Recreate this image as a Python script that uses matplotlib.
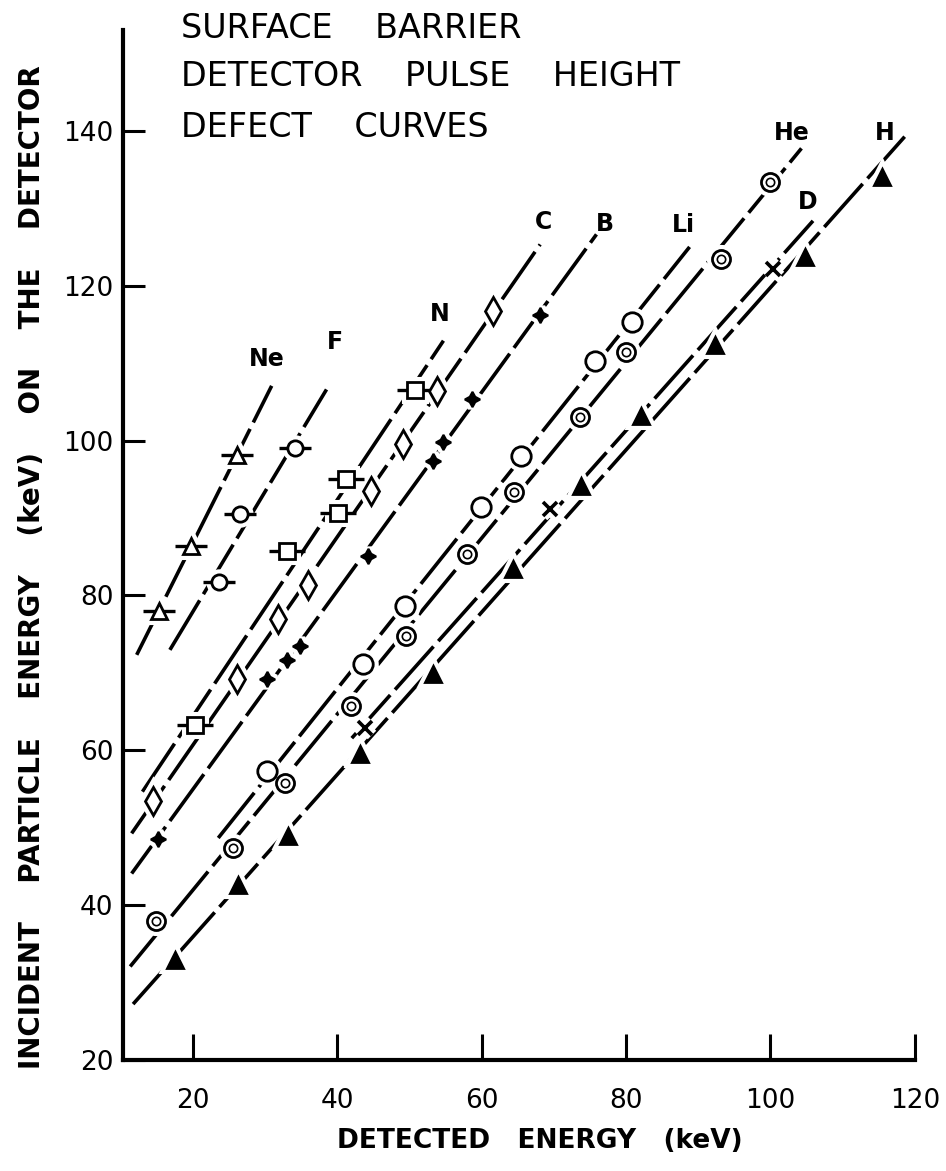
import numpy as np
import matplotlib.pyplot as plt

# points: detected energy (keV) vs incident energy (keV)
ne_x = [15.3, 19.7, 26.1]
ne_y = [78.0, 86.4, 98.1]
f_x = [23.6, 26.5, 34.1]
f_y = [81.7, 90.5, 99.1]
n_x = [20.3, 33.0, 40.1, 41.2, 50.7]
n_y = [63.3, 85.8, 90.7, 95.0, 106.5]
c_x = [14.5, 26.1, 31.8, 36.0, 44.7, 49.1, 53.8, 61.5]
c_y = [53.4, 69.2, 76.9, 81.4, 93.5, 99.6, 106.4, 116.8]
b_x = [15.2, 30.2, 33.0, 34.8, 44.3, 53.3, 54.7, 58.6, 68.1]
b_y = [48.5, 69.2, 71.7, 73.5, 85.1, 97.4, 99.8, 105.4, 116.2]
li_x = [30.2, 43.6, 49.4, 59.9, 65.5, 75.7, 80.8]
li_y = [57.3, 71.1, 78.6, 91.4, 98.0, 110.3, 115.3]
he_x = [14.9, 25.6, 32.7, 41.9, 49.5, 57.9, 64.5, 73.6, 80.0, 93.1, 99.9]
he_y = [37.9, 47.4, 55.8, 65.7, 74.8, 85.3, 93.3, 103.0, 111.4, 123.5, 133.4]
d_x = [43.8, 69.4, 100.4]
d_y = [62.9, 91.2, 122.2]
h_x = [17.5, 26.3, 33.2, 43.1, 53.3, 64.4, 73.8, 82.1, 92.3, 104.8, 115.4]
h_y = [32.9, 42.6, 48.9, 59.5, 69.8, 83.4, 94.2, 103.2, 112.3, 123.7, 134.1]

# extent of each hand drawn line (keV on the x axis)
ne_span = [12.2, 30.9]
f_span = [16.8, 38.5]
n_span = [13.0, 54.7]
c_span = [11.5, 68.1]
b_span = [11.5, 75.9]
li_span = [23.5, 88.8]
he_span = [11.3, 104.3]
d_span = [42.0, 105.9]
h_span = [11.7, 118.6]

fig = plt.figure(figsize=(9.46, 11.71), dpi=100)
ax = fig.add_axes([0.130, 0.095, 0.837, 0.879])


def curve(xs, ys, span, marker, ms, fill='white', bar=False, mew=2.0):
    k, b = np.polyfit(xs, ys, 1)
    lx = np.array(span)
    ax.plot(lx, k * lx + b, color='black', lw=2.6, dashes=(16, 2),
            solid_capstyle='butt', zorder=2)
    # white halo so the line breaks around each symbol
    ax.plot(xs, ys, ls='none', marker=marker, ms=ms, mfc='white', mec='white',
            mew=mew + 6, zorder=3)
    if bar:
        ax.plot(xs, ys, ls='none', marker='_', ms=ms * 2.1, mew=2.4,
                color='black', zorder=4)
    ax.plot(xs, ys, ls='none', marker=marker, ms=ms, mfc=fill, mec='black',
            mew=mew, zorder=5)


curve(ne_x, ne_y, ne_span, '^', 11, bar=True)
curve(f_x, f_y, f_span, 'o', 11, bar=True)
curve(n_x, n_y, n_span, 's', 12, bar=True)
curve(c_x, c_y, c_span, 'd', 14)
curve(b_x, b_y, b_span, (4, 1, 0), 11, fill='black', mew=1.5)
curve(li_x, li_y, li_span, 'o', 14)
curve(he_x, he_y, he_span, 'o', 13)
ax.plot(he_x, he_y, ls='none', marker='o', ms=6, mfc='white', mec='black',
        mew=1.2, zorder=6)
curve(d_x, d_y, d_span, 'x', 10, mew=2.6)
curve(h_x, h_y, h_span, '^', 11, fill='black')

# curve labels
labels = ['Ne', 'F', 'N', 'C', 'B', 'Li', 'He', 'D', 'H']
label_x = [30.2, 39.7, 54.2, 68.5, 77.1, 87.9, 102.9, 105.2, 115.8]
label_y = [110.6, 112.8, 116.4, 128.2, 128.0, 127.8, 139.7, 130.8, 139.7]
for t, lx, ly in zip(labels, label_x, label_y):
    ax.text(lx, ly, t, fontsize=17, fontweight='bold', ha='center', va='center')

ax.set_xlim(10.3, 120)
ax.set_ylim(20, 153)
ax.set_xticks([20, 40, 60, 80, 100, 120])
ax.set_yticks([20, 40, 60, 80, 100, 120, 140])
ax.spines['top'].set_visible(False)
ax.spines['right'].set_visible(False)
ax.spines['left'].set_linewidth(3)
ax.spines['bottom'].set_linewidth(3)
ax.tick_params(axis='x', direction='in', length=19, width=2.2, pad=20, labelsize=19)
ax.tick_params(axis='y', direction='in', length=16, width=2.2, pad=7, labelsize=19)

fig.text(0.191, 0.976, 'SURFACE    BARRIER', fontsize=24, va='center')
fig.text(0.191, 0.935, 'DETECTOR    PULSE    HEIGHT', fontsize=24, va='center')
fig.text(0.191, 0.891, 'DEFECT    CURVES', fontsize=24, va='center')

fig.text(0.034, 0.516,
         'INCIDENT    PARTICLE    ENERGY    (keV)    ON    THE    DETECTOR',
         rotation=90, fontsize=20, fontweight='bold', ha='center', va='center')
fig.text(0.571, 0.026, 'DETECTED   ENERGY   (keV)', fontsize=19,
         fontweight='bold', ha='center', va='center')

fig.savefig('out.png', dpi=100)
